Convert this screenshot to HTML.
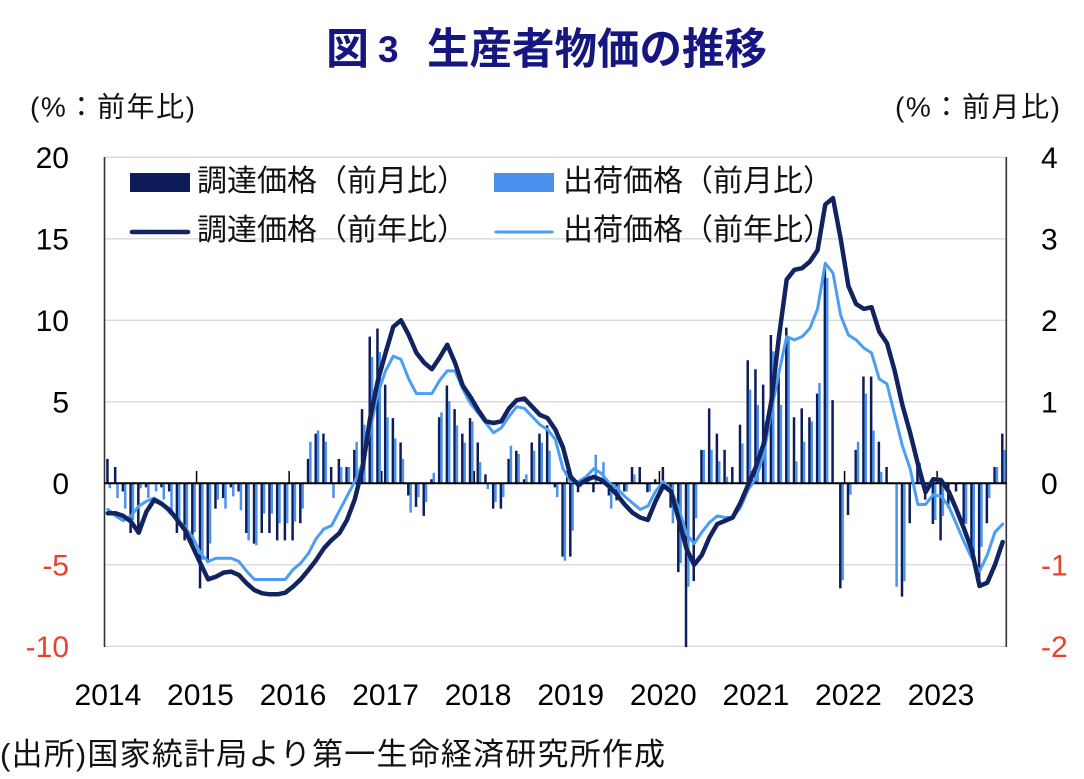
<!DOCTYPE html>
<html>
<head>
<meta charset="utf-8">
<style>
html,body{margin:0;padding:0;background:#fff;}
svg{display:block;}
.jp{font-family:"Liberation Sans","Noto Sans CJK JP",sans-serif;}
.num{font-family:"Liberation Sans",sans-serif;font-size:30px;}
</style>
</head>
<body>
<svg xmlns="http://www.w3.org/2000/svg" width="1084" height="779" viewBox="0 0 1084 779">
<rect width="1084" height="779" fill="#fff"/>

<!-- Title -->
<text class="jp" x="326" y="64" font-size="43" font-weight="bold" fill="#161680">図</text>
<text x="378" y="62" font-family="Liberation Sans, sans-serif" font-size="37" font-weight="bold" fill="#161680">3</text>
<text class="jp" x="427" y="64" font-size="43" font-weight="bold" fill="#161680" textLength="340" lengthAdjust="spacingAndGlyphs">生産者物価の推移</text>

<!-- Axis headers -->
<text class="jp" x="30" y="116.5" font-size="28" fill="#111" textLength="165" lengthAdjust="spacing">(%：前年比)</text>
<text class="jp" x="895" y="116.5" font-size="28" fill="#111" textLength="165" lengthAdjust="spacing">(%：前月比)</text>

<!-- Gridlines -->
<g stroke="#d9d9d9" stroke-width="1.3">
<line x1="104" y1="157.3" x2="1006.5" y2="157.3"/>
<line x1="104" y1="238.8" x2="1006.5" y2="238.8"/>
<line x1="104" y1="320.3" x2="1006.5" y2="320.3"/>
<line x1="104" y1="401.8" x2="1006.5" y2="401.8"/>
<line x1="104" y1="564.8" x2="1006.5" y2="564.8"/>
<line x1="104" y1="646.3" x2="1006.5" y2="646.3"/>
</g>

<!-- Bars: dark (調達 前月比) -->
<g transform="translate(107.47 483.3) scale(7.714 -81.5)">
<path fill="none" stroke="#0e1d5a" stroke-width="2.5" vector-effect="non-scaling-stroke" d="M0 0V.3M1 0V.2M2 0V-.1M3 0V-.61M4 0V-.61M5 0V-.05M7 0V-.05M8 0V-.1M9 0V-.61M10 0V-.7M11 0V-.78M12 0V-1.29M13 0V-.98M14 0V-.31M15 0V-.18M16 0V-.05M17 0V-.1M18 0V-.61M19 0V-.74M20 0V-.61M21 0V-.61M22 0V-.7M23 0V-.7M24 0V-.7M25 0V-.49M26 0V.3M27 0V.61M28 0V.61M29 0V.2M30 0V.3M31 0V.2M32 0V.41M33 0V.91M34 0V1.8M35 0V1.9M36 0V1.21M37 0V.8M38 0V.5M39 0V-.15M40 0V-.29M41 0V-.4M42 0V.05M43 0V.81M44 0V1.2M45 0V.91M46 0V.61M47 0V.8M48 0V.5M49 0V.11M50 0V-.31M51 0V-.31M52 0V.3M53 0V.4M54 0V.05M55 0V.5M56 0V.61M57 0V.71M58 0V-.05M59 0V-.9M60 0V-.9M61 0V-.11M62 0V.05M63 0V-.11M64 0V.05M65 0V-.15M66 0V-.21M67 0V-.1M68 0V.2M69 0V.2M70 0V-.11M71 0V.05M72 0V.2M73 0V-.3M74 0V-1.09M75 0V-2.01M76 0V-1.2M77 0V.41M78 0V.92M79 0V.61M80 0V.41M81 0V.2M82 0V.72M83 0V1.51M84 0V1.4M85 0V1.21M86 0V1.82M87 0V1.31M88 0V1.91M89 0V.81M90 0V.92M91 0V.81M92 0V1.1M93 0V2.64M94 0V1.02M95 0V-1.29M96 0V-.39M97 0V.41M98 0V1.31M99 0V1.31M100 0V.51M101 0V.2M103 0V-1.39M104 0V-.49M105 0V.29M106 0V-.2M107 0V-.5M108 0V-.7M109 0V-.3M110 0V-.1M111 0V-.49M112 0V-.82M113 0V-1.23M114 0V-.49M115 0V.2M116 0V.61"/>
</g>

<!-- Bars: light (出荷 前月比) -->
<g transform="translate(109.79 483.3) scale(7.714 -81.5)">
<path fill="none" stroke="#4a92ee" stroke-width="2.5" vector-effect="non-scaling-stroke" d="M0 0V-.06M1 0V-.18M2 0V-.31M3 0V-.45M4 0V-.06M5 0V-.18M6 0V-.1M7 0V-.2M8 0V-.37M9 0V-.5M10 0V-.55M11 0V-.6M12 0V-.94M13 0V-.74M14 0V-.2M15 0V-.31M16 0V-.16M17 0V-.33M18 0V-.7M19 0V-.76M20 0V-.37M21 0V-.37M22 0V-.49M23 0V-.49M24 0V-.47M25 0V-.31M26 0V.51M27 0V.65M28 0V.51M29 0V-.18M30 0V.2M31 0V.2M32 0V.51M33 0V.72M34 0V1.55M35 0V1.61M36 0V.81M37 0V.55M38 0V.3M39 0V-.36M40 0V-.17M41 0V-.23M42 0V.13M43 0V.87M44 0V1.01M45 0V.71M46 0V.5M47 0V.76M48 0V.26M49 0V-.07M50 0V-.23M51 0V-.17M52 0V.46M53 0V.36M54 0V.11M55 0V.4M56 0V.5M57 0V.4M58 0V-.17M59 0V-.95M60 0V-.58M61 0V-.05M62 0V.1M63 0V.35M64 0V.26M65 0V-.31M66 0V-.15M67 0V-.1M68 0V.11M70 0V-.1M73 0V-.49M74 0V-.98M75 0V-1.27M76 0V-.43M77 0V.41M78 0V.41M79 0V.27M80 0V.08M82 0V.49M83 0V1.15M84 0V.96M85 0V.76M86 0V1.62M87 0V.96M88 0V1.78M89 0V.27M90 0V.51M91 0V.76M92 0V1.23M93 0V2.52M95 0V-1.19M96 0V-.14M97 0V.51M98 0V1.1M99 0V.65M100 0V.14M102 0V-1.27M103 0V-1.2M104 0V.1M105 0V.25M106 0V-.1M107 0V-.45M108 0V-.4M111 0V-.5M112 0V-.85M113 0V-.78M114 0V-.18M115 0V.2M116 0V.41"/>
</g>

<!-- Axes -->
<line x1="104.5" y1="157" x2="104.5" y2="647" stroke="#333" stroke-width="1.6"/>
<line x1="1006.3" y1="157" x2="1006.3" y2="647" stroke="#333" stroke-width="1.6"/>
<line x1="104" y1="483.3" x2="1006.5" y2="483.3" stroke="#000" stroke-width="2"/>
<g stroke="#000" stroke-width="1.5">
<line x1="196.57" y1="471" x2="196.57" y2="483"/>
<line x1="289.14" y1="471" x2="289.14" y2="483"/>
<line x1="381.71" y1="471" x2="381.71" y2="483"/>
<line x1="474.28" y1="471" x2="474.28" y2="483"/>
<line x1="566.85" y1="471" x2="566.85" y2="483"/>
<line x1="659.42" y1="471" x2="659.42" y2="483"/>
<line x1="751.99" y1="471" x2="751.99" y2="483"/>
<line x1="844.56" y1="471" x2="844.56" y2="483"/>
<line x1="937.13" y1="471" x2="937.13" y2="483"/>
</g>

<!-- Lines -->
<g transform="translate(107.857 483.3) scale(7.714 -16.3)">
<polyline fill="none" stroke="#4b9ef3" stroke-width="3" stroke-linejoin="round" stroke-linecap="round" vector-effect="non-scaling-stroke" points="0,-1.6 1,-2 2,-2.3 3,-2 4,-1.4 5,-1.1 6,-0.9 7,-1.2 8,-1.8 9,-2.2 10,-2.7 11,-3.3 12,-4.3 13,-4.8 14,-4.6 15,-4.6 16,-4.6 17,-4.8 18,-5.4 19,-5.9 20,-5.9 21,-5.9 22,-5.9 23,-5.9 24,-5.3 25,-4.9 26,-4.3 27,-3.4 28,-2.8 29,-2.6 30,-1.7 31,-0.8 32,0.1 33,1.2 34,3.3 35,5.5 36,6.9 37,7.8 38,7.6 39,6.4 40,5.5 41,5.5 42,5.5 43,6.3 44,6.9 45,6.9 46,5.8 47,4.9 48,4.3 49,3.7 50,3.1 51,3.4 52,4.1 53,4.7 54,4.6 55,4.1 56,3.6 57,3.3 58,2.7 59,0.9 60,0.1 61,0.1 62,0.4 63,0.9 64,0.6 65,0 66,-0.3 67,-0.8 68,-1.2 69,-1.6 70,-1.4 71,-0.5 72,0.1 73,-0.4 74,-1.5 75,-3.1 76,-3.7 77,-3 78,-2.4 79,-2 80,-2.1 81,-2.1 82,-1.5 83,-0.4 84,0.3 85,1.7 86,4.4 87,6.8 88,9 89,8.8 90,9 91,9.5 92,10.7 93,13.5 94,12.9 95,10.3 96,9.1 97,8.8 98,8.3 99,8 100,6.4 101,6.1 102,4.2 103,2.3 104,0.9 105,-1.3 106,-1.3 107,-0.7 108,-0.8 109,-1.4 110,-2.5 111,-3.6 112,-4.6 113,-5.4 114,-4.4 115,-3 116,-2.5"/>
<polyline fill="none" stroke="#13235f" stroke-width="4.5" stroke-linejoin="round" stroke-linecap="round" vector-effect="non-scaling-stroke" points="0,-1.84 1,-1.84 2,-2 3,-2.35 4,-3.03 5,-1.74 6,-1.02 7,-1.27 8,-1.64 9,-2.25 10,-2.87 11,-3.89 12,-4.91 13,-5.89 14,-5.73 15,-5.48 16,-5.42 17,-5.63 18,-6.14 19,-6.55 20,-6.75 21,-6.81 22,-6.81 23,-6.71 24,-6.34 25,-5.89 26,-5.32 27,-4.71 28,-3.99 29,-3.48 30,-3.07 31,-2.25 32,-1 33,0.9 34,4 35,6.3 36,8 37,9.6 38,10 39,9.1 40,8 41,7.4 42,7 43,7.7 44,8.5 45,7.4 46,6 47,5.3 48,4.5 49,3.8 50,3.7 51,3.8 52,4.6 53,5.1 54,5.2 55,4.7 56,4.2 57,4 58,3.3 59,2.2 60,0.4 61,-0.1 62,0.2 63,0.4 64,0.2 65,-0.2 66,-0.7 67,-1.3 68,-1.8 69,-2.1 70,-2.25 71,-1.1 72,-0.15 73,-0.5 74,-2.2 75,-4 76,-5 77,-4.4 78,-3.3 79,-2.5 80,-2.3 81,-2.1 82,-1.2 83,-0.1 84,1 85,2.4 86,5 87,9 88,12.5 89,13.1 90,13.2 91,13.6 92,14.3 93,17.1 94,17.5 95,15 96,12.1 97,11 98,10.7 99,10.8 100,9.3 101,8.6 102,6.9 103,4.8 104,3.1 105,1.2 106,-0.55 107,0.25 108,0.2 109,-0.5 110,-1.6 111,-2.8 112,-4.1 113,-6.3 114,-6.1 115,-5 116,-3.6"/>
</g>

<!-- Left axis labels -->
<g class="num" text-anchor="end">
<text x="69" y="168">20</text>
<text x="69" y="249.5">15</text>
<text x="69" y="331">10</text>
<text x="69" y="412.5">5</text>
<text x="69" y="494">0</text>
<text x="69" y="575.5" fill="#e8412c">-5</text>
<text x="69" y="657" fill="#e8412c">-10</text>
</g>
<!-- Right axis labels -->
<g class="num">
<text x="1041" y="168">4</text>
<text x="1041" y="249.5">3</text>
<text x="1041" y="331">2</text>
<text x="1041" y="412.5">1</text>
<text x="1041" y="494">0</text>
<text x="1041" y="575.5" fill="#e8412c">-1</text>
<text x="1041" y="657" fill="#e8412c">-2</text>
</g>

<!-- Year labels -->
<g class="num" text-anchor="middle">
<text x="107.9" y="705">2014</text>
<text x="200.4" y="705">2015</text>
<text x="293" y="705">2016</text>
<text x="385.6" y="705">2017</text>
<text x="478.1" y="705">2018</text>
<text x="570.7" y="705">2019</text>
<text x="663.3" y="705">2020</text>
<text x="755.9" y="705">2021</text>
<text x="848.4" y="705">2022</text>
<text x="941" y="705">2023</text>
</g>

<!-- Legend -->
<rect x="130" y="173" width="60" height="19" fill="#0e1d5a"/>
<text class="jp" x="197" y="191" font-size="30" fill="#111">調達価格（前月比）</text>
<rect x="494" y="173" width="60" height="19" fill="#4a92ee"/>
<text class="jp" x="563" y="191" font-size="30" fill="#111">出荷価格（前月比）</text>
<line x1="132" y1="232" x2="188" y2="232" stroke="#13235f" stroke-width="4.5" stroke-linecap="round"/>
<text class="jp" x="197" y="240" font-size="30" fill="#111">調達価格（前年比）</text>
<line x1="496" y1="232" x2="552" y2="232" stroke="#4b9ef3" stroke-width="3" stroke-linecap="round"/>
<text class="jp" x="563" y="240" font-size="30" fill="#111">出荷価格（前年比）</text>

<!-- Footnote -->
<text class="jp" x="0" y="765" font-size="31" fill="#111" textLength="665" lengthAdjust="spacing">(出所)国家統計局より第一生命経済研究所作成</text>
</svg>
</body>
</html>
